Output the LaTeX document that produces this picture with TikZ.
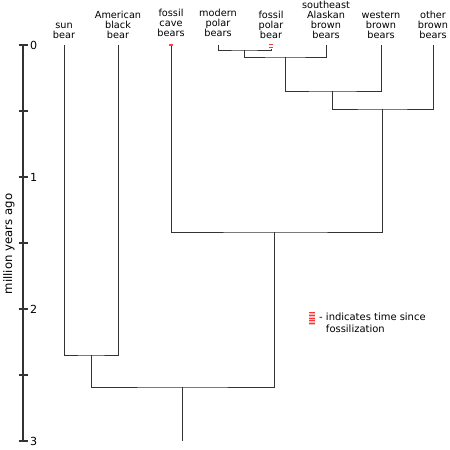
\documentclass[tikz,border=0pt]{standalone}
\usepackage{fontspec}
\setmainfont{DejaVu Sans}
\usetikzlibrary{positioning}

\begin{document}
\begin{tikzpicture}[x=0.03cm,y=-0.03cm,
  taxon/.style={anchor=south,align=center,inner sep=0pt,font=\fontsize{8.3}{8.7}\selectfont},
  branch/.style={line width=0.75pt,black!80},
  fossil/.style={line width=0.85pt,red!80},
  tick/.style={line width=1.6pt,black!80}]
  \useasboundingbox (0,0) rectangle (450,450);
  % time axis
  \coordinate (t0) at (23,45);
  \coordinate (t3) at (23,441);
  \draw[line width=2.4pt,black!80] (t0) -- (t3);
  \foreach \y in {0,1,...,6}
    \draw[tick] (18.5,45+66*\y) -- (27.5,45+66*\y);
  \foreach \m in {0,1,2,3}
    \node[anchor=west,inner sep=0pt,font=\fontsize{9.5}{10}\selectfont] (m\m) at (30,45+132*\m) {\m};
  \node[rotate=90,font=\fontsize{10}{11}\selectfont] (axis) at (9,244) {million years ago};
  % tips
  \coordinate (sun) at (64,45);
  \coordinate (black) at (118,45);
  \coordinate (cave) at (171,46);
  \coordinate (modern) at (218,45);
  \coordinate (fpolar) at (271,49);
  \coordinate (seak) at (326,45);
  \coordinate (western) at (381,45);
  \coordinate (other) at (433,45);
  \node[taxon] (sunL) at (64,39) {sun\\bear};
  \node[taxon] (blackL) at (118,39) {American\\black\\bear};
  \node[taxon] (caveL) at (171,37) {fossil\\cave\\bears};
  \node[taxon] (modernL) at (218,37) {modern\\polar\\bears};
  \node[taxon] (fpolarL) at (271,39) {fossil\\polar\\bear};
  \node[taxon] (seakL) at (326,39) {southeast\\Alaskan\\brown\\bears};
  \node[taxon] (westernL) at (381,39) {western\\brown\\bears};
  \node[taxon] (otherL) at (433,39) {other\\brown\\bears};
  % joins
  \coordinate (jp) at (244,50);
  \coordinate (js) at (285,57);
  \coordinate (jw) at (332,91);
  \coordinate (jb) at (382,109);
  \coordinate (jc) at (274,232);
  \coordinate (jsb) at (91,355);
  \coordinate (root) at (182,387);
  \coordinate (base) at (182,441);
  \draw[branch] (modern) |- (jp) -| (fpolar);
  \draw[branch] (jp) |- (js) -| (seak);
  \draw[branch] (js) |- (jw) -| (western);
  \draw[branch] (jw) |- (jb) -| (other);
  \draw[branch] (cave) |- (jc) -| (jb);
  \draw[branch] (sun) |- (jsb) -| (black);
  \draw[branch] (jsb) |- (root) -| (jc);
  \draw[branch] (root) -- (base);
  % time since fossilization
  \fill[red!75] (169,44.3) rectangle (173,46.3);
  \foreach \y in {44,47}
    \draw[fossil] (269,\y) -- (273,\y);
  \fill[red!25] (309,312) rectangle (315,325);
  \foreach \y in {312.8,315.4,...,325}
    \draw[fossil] (309,\y) -- (315,\y);
  \node[anchor=north west,align=left,inner sep=0pt,font=\fontsize{8.5}{10}\selectfont] (key) at (319,313)
    {- indicates time since\\\phantom{- }fossilization};
\end{tikzpicture}
\end{document}
